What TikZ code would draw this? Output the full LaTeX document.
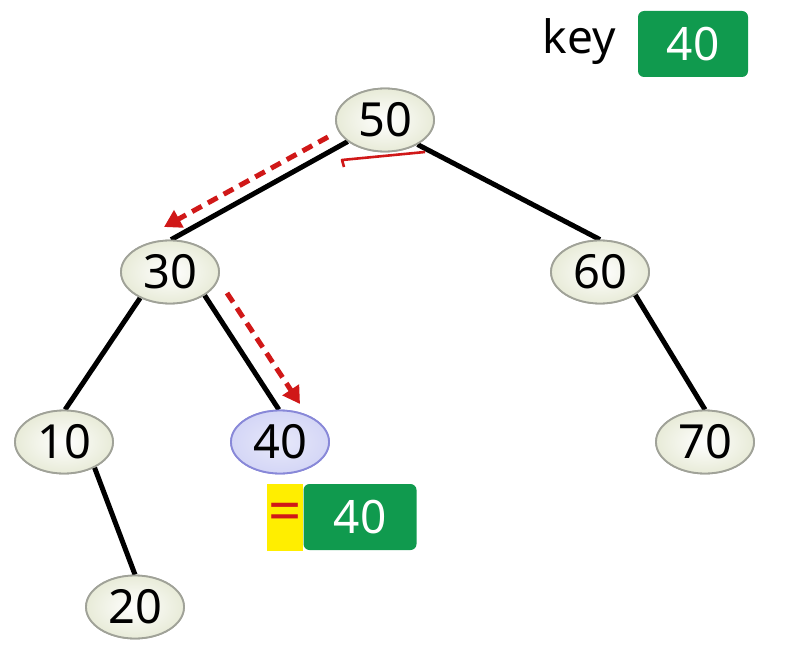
\documentclass[tikz,border=0pt]{standalone}
\usepackage{fontspec}
\setmainfont{Noto Sans}
\usetikzlibrary{arrows.meta,shapes.geometric}
\definecolor{nodefill}{HTML}{E8EBD8}
\definecolor{nodedraw}{HTML}{A0A298}
\definecolor{hitfill}{HTML}{D4D6F6}
\definecolor{hitdraw}{HTML}{8888D8}
\definecolor{keygreen}{HTML}{109A4E}
\definecolor{arrowred}{HTML}{D01818}
\definecolor{eqyellow}{HTML}{FFEE00}
\begin{document}
\begin{tikzpicture}[x=1pt,y=-1pt,
  treenode/.style={ellipse,draw=nodedraw,line width=1.8pt,inner color=white,outer color=nodefill,
    minimum width=98pt,minimum height=63pt,inner sep=0pt,font=\fontsize{47}{47}\selectfont},
  hitnode/.style={treenode,draw=hitdraw,inner color=hitfill!55,outer color=hitfill},
  edge/.style={line width=5pt,black},
  searcharrow/.style={draw=arrowred,line width=5pt,dash pattern=on 11pt off 7pt,-{Triangle[length=17pt,width=19pt]}},
  greenbox/.style={fill=keygreen,rounded corners=6pt,text=white,font=\fontsize{46}{46}\selectfont,inner sep=0pt}
]
\useasboundingbox (0,0) rectangle (789,658);
% node positions
\node[treenode] (n50) at (385,120) {50};
\node[treenode] (n30) at (170,272) {30};
\node[treenode] (n60) at (600,272) {60};
\node[treenode] (n10) at (64,442) {10};
\node[hitnode] (n40) at (280,442) {40};
\node[treenode] (n70) at (705,442) {70};
\node[treenode] (n20) at (135,607) {20};
% edges
\draw[edge] (n50.210) -- (n30.88);
\draw[edge] (n50.323) -- (n60.90);
\draw[edge] (n30.221) -- (n10.88);
\draw[edge] (n30.326) -- (n40.92);
\draw[edge] (n10.320) -- (n20.90);
\draw[edge] (n60.327) -- (n70.90);
% redraw nodes on top of edge ends
\node[treenode] at (n50) {50};
\node[treenode] at (n30) {30};
\node[treenode] at (n60) {60};
\node[treenode] at (n10) {10};
\node[hitnode] at (n40) {40};
\node[treenode] at (n70) {70};
\node[treenode] at (n20) {20};
% search arrows
\coordinate (a1s) at (328,137);
\coordinate (a1e) at (164,227);
\draw[searcharrow] (a1s) -- (a1e);
\coordinate (a2s) at (227,293);
\coordinate (a2e) at (300,404);
\draw[searcharrow] (a2s) -- (a2e);
% thin red return mark
\coordinate (r1) at (425,152);
\coordinate (r2) at (342,160);
\coordinate (r3) at (344,167);
\draw[arrowred,line width=2.6pt,line join=round] (r1) -- (r2) -- (r3);
% key
\node[font=\fontsize{46}{46}\selectfont] (keylabel) at (579,42) {key};
\node[greenbox,minimum width=110pt,minimum height=66pt] (keybox) at (693,44) {40};
% equality
\node[fill=eqyellow,minimum width=36pt,minimum height=67pt,inner sep=0pt] (eq) at (285,517) {};
\node[text=arrowred,font=\fontsize{58}{58}\selectfont\bfseries] at (eq) {=};
\node[greenbox,minimum width=113pt,minimum height=66pt] (cmpbox) at (360,517) {40};
\end{tikzpicture}
\end{document}
